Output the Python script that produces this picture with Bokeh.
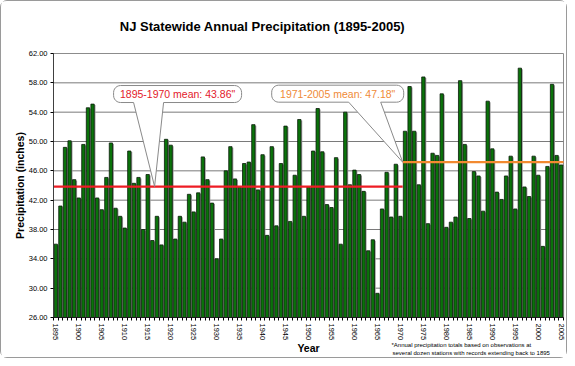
import math
from bokeh.plotting import figure
from bokeh.models import FixedTicker, NumeralTickFormatter, Label, Range1d, ColumnDataSource
from bokeh.embed import file_html
from bokeh.resources import INLINE

# ---------------- data ----------------
years = list(range(1895, 2006))
precip = [
    36.0, 41.2, 49.2, 50.1, 44.8, 42.3, 49.6, 54.6, 55.1, 42.3,   # 1895-1904
    40.7, 45.1, 49.8, 40.9, 39.8, 38.2, 48.7, 44.3, 45.1, 38.0,   # 1905-1914
    45.5, 36.5, 39.8, 35.9, 50.3, 49.5, 36.7, 39.8, 39.0, 42.8,   # 1915-1924
    40.4, 43.0, 47.9, 44.8, 41.6, 34.0, 36.7, 46.0, 49.3, 44.9,   # 1925-1934
    43.8, 47.0, 47.2, 52.3, 43.4, 48.2, 37.2, 49.3, 38.5, 47.0,   # 1935-1944
    52.1, 39.1, 45.4, 53.0, 39.8, 43.8, 48.7, 54.5, 48.6, 41.4,   # 1945-1954
    41.0, 47.8, 36.0, 54.0, 44.1, 46.1, 45.5, 43.2, 35.1, 36.6,   # 1955-1964
    29.3, 40.8, 45.8, 39.7, 46.9, 39.8, 51.4, 57.5, 51.4, 44.1,   # 1965-1974
    58.8, 38.8, 48.4, 48.1, 56.5, 38.3, 39.0, 39.7, 58.3, 49.6,   # 1975-1984
    39.5, 45.9, 45.3, 40.5, 55.5, 49.0, 43.1, 42.1, 45.3, 48.0,   # 1985-1994
    40.8, 60.0, 43.8, 42.5, 48.0, 45.4, 35.7, 46.6, 57.8, 48.1,   # 1995-2004
    46.8,                                                         # 2005
]
period_starts = [1895, 1971]
period_ends = [1970, 2005]
period_means = [43.86, 47.18]
period_labels = ['1895-1970 mean: 43.86"', '1971-2005 mean: 47.18"']
y_ticks = [26, 30, 34, 38, 42, 46, 50, 54, 58, 62]
x_label_years = list(range(1895, 2006, 5))

# ---------------- layout ----------------
W, H = 567, 358
PL, PR, PT, PB = 52, 562, 52, 316          # plot area in canvas pixels
XMIN, XMAX = years[0] - 0.5, years[-1] + 0.5
YMIN, YMAX = y_ticks[0], y_ticks[-1]
PXX = (PR - PL) / (XMAX - XMIN)
PXY = (PB - PT) / (YMAX - YMIN)
xr = Range1d(XMIN - PL / PXX, XMAX + (W - PR) / PXX)
yr = Range1d(YMIN - (H - PB) / PXY, YMAX + PT / PXY)

def dx(px):
    return px / PXX

def dy(px):
    return px / PXY

def cx(px):
    return xr.start + px / PXX

def cy(py):
    return yr.end - py / PXY

p = figure(width=W, height=H, output_backend="svg", toolbar_location=None,
           x_range=xr, y_range=yr, min_border=0,
           background_fill_color="white", border_fill_color="white")
p.title.visible = False
p.outline_line_color = None
p.styles = {"border": "1px solid #9a9a9a", "border-radius": "7px", "box-sizing": "border-box"}

p.xgrid.grid_line_color = None
p.ygrid.grid_line_color = None

# axes fixed at the plot-area edges
p.yaxis.fixed_location = XMIN
p.yaxis.bounds = (YMIN, YMAX)
p.yaxis.ticker = FixedTicker(ticks=y_ticks)
p.yaxis.formatter = NumeralTickFormatter(format="0.00")
p.yaxis.major_label_text_font = "Liberation Sans"
p.yaxis.major_label_text_font_size = "7.5px"
p.yaxis.major_label_text_color = "black"
p.yaxis.major_tick_out = 3
p.yaxis.major_tick_in = 0
p.yaxis.minor_tick_line_color = None
p.yaxis.axis_line_color = "#404040"
p.yaxis.major_label_standoff = 3

p.xaxis.fixed_location = YMIN
p.xaxis.bounds = (XMIN, XMAX)
p.xaxis.ticker = FixedTicker(ticks=x_label_years,
                             minor_ticks=[y - 0.5 for y in years] + [years[-1] + 0.5])
p.xaxis.major_label_orientation = "vertical"
p.xaxis.major_label_text_font = "Liberation Sans"
p.xaxis.major_label_text_font_size = "7.5px"
p.xaxis.major_label_text_color = "black"
p.xaxis.major_tick_out = 0
p.xaxis.major_tick_in = 0
p.xaxis.minor_tick_out = 3
p.xaxis.minor_tick_in = 0
p.xaxis.axis_line_color = "#202020"
p.xaxis.major_label_standoff = 3

# plot-area outline and horizontal gridlines
p.quad(left=[XMIN], right=[XMAX], bottom=[YMIN], top=[YMAX],
       fill_color=None, line_color="#8c8c8c", line_width=1)
p.segment(x0=XMIN, x1=XMAX, y0=y_ticks[1:-1], y1=y_ticks[1:-1],
          line_color="#7a7a7a", line_width=1)

src = ColumnDataSource(dict(year=years, val=precip,
                            sx=[y + 0.28 for y in years],
                            sval=[v - dy(1) for v in precip]))
# bar shadow
p.vbar(x="sx", top="sval", bottom=YMIN, width=0.72, source=src,
       fill_color="#9c9c9c", line_color=None)
# bars
p.vbar(x="year", top="val", bottom=YMIN, width=0.72, source=src,
       fill_color="#0a730a", line_color="#0a1a0a", line_width=0.8)

# mean lines
line_colors = ["#ee1c24", "#f28a30"]
p.segment(x0=[s - 0.5 for s in period_starts], x1=[e + 0.5 for e in period_ends],
          y0=period_means, y1=period_means, line_color=line_colors, line_width=2.2)

# callouts
def callout(tipx, tipy, left, right, top, bottom, bl, br, r=7, n=6):
    pts = []
    def arc(ax, ay, a0, a1):
        for k in range(n + 1):
            a = a0 + (a1 - a0) * k / n
            pts.append((ax + r * math.cos(a), ay + r * math.sin(a)))
    arc(left + r, top + r, math.pi, 1.5 * math.pi)
    arc(right - r, top + r, 1.5 * math.pi, 2 * math.pi)
    arc(right - r, bottom - r, 0, 0.5 * math.pi)
    pts.append((br, bottom))
    pts.append((0, 0))
    pts.append((bl, bottom))
    arc(left + r, bottom - r, 0.5 * math.pi, math.pi)
    xs = [tipx + dx(a) for a, b in pts]
    ys = [tipy - dy(b) for a, b in pts]
    return xs, ys

tips = [(1916.5, period_means[0]), (1970.5, period_means[1])]
boxes = [(-41, 87, -101, -84, -21, 9), (-131, 1, -77, -60, -54, -22)]
text_colors = ["#e3202a", "#ef8a36"]
for (tx, ty), (l, r_, t, b, bl, br), lab, tc in zip(tips, boxes, period_labels, text_colors):
    xs, ys = callout(tx, ty, l, r_, t, b, bl, br)
    p.patch(xs, ys, fill_color="white", line_color="#8a8a8a", line_width=1)
    p.add_layout(Label(x=tx + dx((l + r_) / 2), y=ty - dy((t + b) / 2), text=lab,
                       text_align="center", text_baseline="middle",
                       text_font="Liberation Sans", text_font_size="10.5px", text_color=tc))

# texts around the plot area
def clabel(xc, yc, text, size, bold=False, angle=0.0, align="center"):
    p.add_layout(Label(x=cx(xc), y=cy(yc), text=text, angle=angle,
                       text_align=align, text_baseline="middle",
                       text_font="Liberation Sans", text_font_size=size,
                       text_font_style="bold" if bold else "normal", text_color="black"))

clabel(261, 25, "NJ Statewide Annual Precipitation (1895-2005)", "13px", True)
clabel(18, 184, "Precipitation (inches)", "10.5px", True, math.pi / 2)
clabel(307, 346, "Year", "10.5px", True)
clabel(390, 343, "*Annual precipitation totals based on observations at", "6px", align="left")
clabel(391, 351, "several dozen stations with records extending back to 1895", "6px", align="left")

open("out.html", "w").write(file_html(p, INLINE))
